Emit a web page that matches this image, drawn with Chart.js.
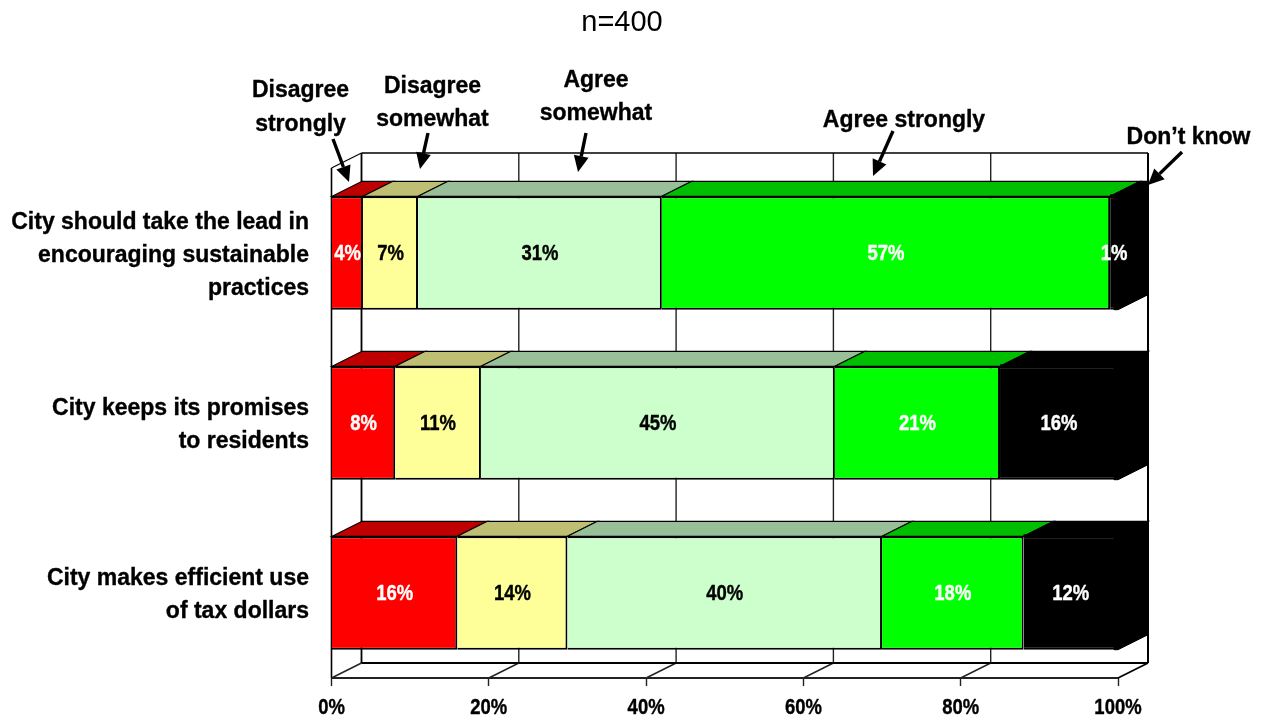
<!DOCTYPE html>
<html><head><meta charset="utf-8">
<style>html,body{margin:0;padding:0;background:#fff}#wrap{width:1262px;height:720px}</style>
<script src="https://cdn.jsdelivr.net/npm/chart.js@4"></script>
</head><body><div id="wrap"><canvas id="c" width="1262" height="720"></canvas></div>
<script>
const categories = [
  ['City should take the lead in','encouraging sustainable','practices'],
  ['City keeps its promises','to residents'],
  ['City makes efficient use','of tax dollars']
];
const seriesNames = ['Disagree strongly','Disagree somewhat','Agree somewhat','Agree strongly',"Don’t know"];
const disagreeStrongly = [4, 8.1, 16];
const disagreeSomewhat = [7, 10.9, 14];
const agreeSomewhat = [31, 45, 40];
const agreeStrongly = [57, 21, 18];
const dontKnow = [1, 15.5, 12];
const seriesValues = [disagreeStrongly, disagreeSomewhat, agreeSomewhat, agreeStrongly, dontKnow];
const frontColors = ['#ff0000','#ffff99','#ccffcc','#00ff00','#000000'];
const topColors = ['#bf0000','#bfbf73','#99bf99','#00bf00','#000000'];
const labelColors = ['#ffffff','#000000','#000000','#ffffff','#ffffff'];
const titleText = 'n=400';
const callouts = [
  {lines:['Disagree','strongly'], cx:300.5, ys:[89,123], from:[333,139], to:[349,182]},
  {lines:['Disagree','somewhat'], cx:432.5, ys:[85,118], from:[428,133], to:[420,169]},
  {lines:['Agree','somewhat'], cx:596, ys:[79,112], from:[586,133], to:[578,172]},
  {lines:['Agree strongly'], cx:904, ys:[119], from:[893,131], to:[873,176]},
  {lines:['Don’t know'], cx:1188.5, ys:[136], from:[1182,152], to:[1148,185]}
];
const DX = 30, DY = 15;
const FONT = '"Liberation Sans", Arial, sans-serif';
const boldFont = s => `bold ${s}px ${FONT}`;

function squeezed(ctx, text, x, y, sx, align, color, font, heavy){
  ctx.save();
  ctx.translate(x, y);
  ctx.scale(sx, 1);
  ctx.font = font; ctx.fillStyle = color;
  ctx.textAlign = align; ctx.textBaseline = 'middle';
  ctx.fillText(text, 0, 1.5);
  if(heavy){ctx.strokeStyle=color;ctx.lineWidth=heavy;ctx.lineJoin='round';ctx.strokeText(text,0,1.5);}
  ctx.restore();
}
function poly(ctx, pts, fill, stroke, lw){
  ctx.beginPath();
  pts.forEach((p,i)=> i ? ctx.lineTo(p[0],p[1]) : ctx.moveTo(p[0],p[1]));
  ctx.closePath();
  if(fill){ctx.fillStyle=fill;ctx.fill();}
  if(stroke){ctx.strokeStyle=stroke;ctx.lineWidth=lw;ctx.stroke();}
}
function line(ctx,x1,y1,x2,y2,c,w){
  ctx.beginPath();ctx.moveTo(x1,y1);ctx.lineTo(x2,y2);ctx.strokeStyle=c;ctx.lineWidth=w;ctx.stroke();
}
function arrow(ctx, a, b){
  const ang = Math.atan2(b[1]-a[1], b[0]-a[0]), L=16, W=7.5;
  const bx=b[0]-L*Math.cos(ang), by=b[1]-L*Math.sin(ang);
  line(ctx,a[0],a[1],bx,by,'#000',3.4);
  poly(ctx,[b,[bx-W*Math.sin(ang),by+W*Math.cos(ang)],[bx+W*Math.sin(ang),by-W*Math.cos(ang)]],'#000');
}

const box3d = {
  id:'box3d',
  afterLayout(chart){
    const {x,y} = chart.scales, ctx = chart.ctx;
    x.drawLabels = function(){
      x.ticks.forEach((t,i)=> squeezed(ctx,t.label,x.getPixelForTick(i),706,0.84,'center','#000',boldFont(22),0.4));
    };
    y.drawLabels = function(){
      y.ticks.forEach((t,i)=>{
        const ls = t.label, cy = y.getPixelForTick(i)+1, h = 33;
        ls.forEach((s,j)=> squeezed(ctx,s,309,cy+(j-(ls.length-1)/2)*h,1,'right','#000',boldFont(23),0.35));
      });
    };
  },
  beforeDatasetsDraw(chart){
    const {ctx, chartArea:a, scales:{x}} = chart;
    ctx.save();
    const L=a.left,R=a.right,T=a.top,B=a.bottom;
    poly(ctx,[[L+DX,T-DY],[R+DX,T-DY],[R+DX,B-DY],[L+DX,B-DY]],'#fff');
    x.ticks.forEach((t,i)=>{
      const px=x.getPixelForTick(i);
      if(i>0 && i<x.ticks.length-1) line(ctx,px+DX,T-DY,px+DX,B-DY,'#222',1.4);
      if(i<x.ticks.length-1) line(ctx,px,B,px+DX,B-DY,'#222',1.4);
    });
    line(ctx,L+DX,T-DY,R+DX,T-DY,'#000',1.5);
    line(ctx,R+DX,T-DY,R+DX,B-DY,'#000',2);
    line(ctx,L+DX,B-DY,R+DX,B-DY,'#000',2);
    line(ctx,L+DX,T-DY,L+DX,B-DY,'#000',1.8);
    line(ctx,L,T,L+DX,T-DY,'#000',1.2);
    line(ctx,L,T,L,B,'#000',1.6);
    line(ctx,L,B,R,B,'#222',2);
    line(ctx,R,B,R+DX,B-DY,'#000',1.8);
    chart.data.datasets.forEach((ds,di)=>{
      chart.getDatasetMeta(di).data.forEach(el=>{
        const top=el.y-el.height/2;
        const x0=Math.min(el.base,R), x1=Math.min(el.x,R);
        poly(ctx,[[x0,top],[x1,top],[x1+DX,top-DY],[x0+DX,top-DY]],topColors[di],'#000',1.2);
      });
    });
    ctx.restore();
  },
  afterDraw(chart){
    const ctx = chart.ctx, R = chart.chartArea.right, n = chart.data.datasets.length;
    ctx.save();
    chart.getDatasetMeta(n-1).data.forEach(el=>{
      const top=el.y-el.height/2, bot=el.y+el.height/2, x1=Math.min(el.x,R);
      poly(ctx,[[x1-4,top],[x1,top],[x1+DX,top-DY],[x1+DX,bot-DY],[x1,bot],[x1-4,bot]],'#000','#000',1);
      ctx.fillStyle='#000';
      ctx.fillRect(el.base, top-2, x1-el.base, 4);
    });
    chart.data.datasets.forEach((ds,di)=>{
      chart.getDatasetMeta(di).data.forEach((el,i)=>{
        const mid=(el.base+Math.min(el.x,R))/2;
        squeezed(ctx,Math.round(ds.data[i])+'%',mid,el.y-0.5,0.84,'center',labelColors[di],boldFont(22),0.4);
      });
    });
    squeezed(ctx,titleText,622,21,1,'center','#000',`29px ${FONT}`);
    callouts.forEach(c=>{
      c.lines.forEach((s,i)=> squeezed(ctx,s,c.cx,c.ys[i],1,'center','#000',boldFont(23),0.35));
      arrow(ctx,c.from,c.to);
    });
    ctx.restore();
  }
};

new Chart(document.getElementById('c'),{
  type:'bar',
  data:{
    labels:categories,
    datasets:seriesNames.map((n,i)=>({
      label:n,data:seriesValues[i],backgroundColor:frontColors[i],
      borderColor:'#000',borderWidth:2,borderSkipped:'start',
      categoryPercentage:1,barPercentage:0.667
    }))
  },
  options:{
    indexAxis:'y',responsive:false,animation:false,
    layout:{padding:{top:168,right:144,bottom:0,left:0}},
    plugins:{legend:{display:false},tooltip:{enabled:false},title:{display:false}},
    scales:{
      x:{stacked:true,min:0,max:100,
        ticks:{stepSize:20,callback:v=>v+'%',maxRotation:0,font:{family:'Liberation Sans',weight:'bold',size:22},color:'#000'},
        grid:{drawOnChartArea:false,drawTicks:true,tickLength:8,tickColor:'#222',tickWidth:1.4},
        border:{display:false},
        afterFit(s){s.height=42;s.paddingLeft=0;s.paddingRight=0;}
      },
      y:{stacked:true,
        ticks:{font:{family:'Liberation Sans',weight:'bold',size:23},color:'#000',autoSkip:false},
        grid:{display:false},border:{display:false},
        afterFit(s){s.width=331.5;s.paddingTop=0;s.paddingBottom=0;}
      }
    }
  },
  plugins:[box3d]
});
</script></body></html>
